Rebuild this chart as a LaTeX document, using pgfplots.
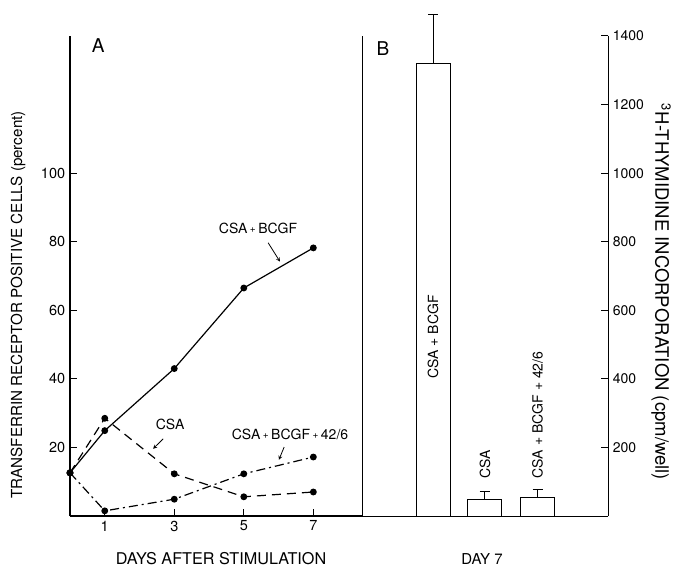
\documentclass[border=0pt]{standalone}
\usepackage{fontspec}
\setmainfont{TeX Gyre Heros}
\usepackage{pgfplots}
\pgfplotsset{compat=1.18}
\newcommand{\pl}{\hspace{2.5pt}{\fontsize{10}{10}\selectfont\raisebox{1pt}{+}}\hspace{2.5pt}}
\begin{document}
\fontsize{14}{16}\selectfont
\begin{tikzpicture}[x=1pt,y=1pt]
\useasboundingbox (0,0) rectangle (677,568);
\begin{axis}[at={(70pt,52pt)}, anchor=south west, scale only axis,
  width=292pt, height=480pt,
  xmin=0, xmax=8.4, ymin=0, ymax=140,
  axis x line*=bottom, axis y line*=left,
  axis line style={-, line width=1.4pt},
  xtick={1,3,5,7}, ytick={20,40,60,80,100},
  tick align=inside, major tick length=7pt,
  tick style={line width=1pt, black},
  /pgf/number format/assume math mode=true,
  tick label style={font=\fontsize{14.5}{16}\selectfont},
  clip=false]
\addplot[black, line width=1.2pt, mark=*, mark size=2.8pt, mark options={solid}]
  coordinates {(0,12.6) (1,24.9) (3,43) (5,66.5) (7,78.2)};
\addplot[black, line width=1.2pt, dash pattern=on 9pt off 6pt, mark=*, mark size=2.8pt, mark options={solid}]
  coordinates {(0,12.6) (1,28.5) (3,12.3) (5,5.6) (7,7)};
\addplot[black, line width=1.2pt, dash pattern=on 9pt off 4pt on 2pt off 4pt, mark=*, mark size=2.8pt, mark options={solid}]
  coordinates {(0,12.6) (1,1.5) (3,4.9) (5,12.3) (7,17.2)};
\node[font=\fontsize{14}{16}\selectfont] at (axis cs:5.41,83.8) {CSA\pl BCGF};
\draw[-stealth, line width=0.8pt] (axis cs:5.70,79.7) -- (axis cs:6.04,74.2);
\node[font=\fontsize{14}{16}\selectfont] at (axis cs:2.88,26.6) {CSA};
\draw[-stealth, line width=0.8pt] (axis cs:2.68,22.5) -- (axis cs:2.39,19.6);
\node[font=\fontsize{14}{16}\selectfont] at (axis cs:6.33,23.9) {CSA\pl BCGF\pl 42/6};
\draw[-stealth, line width=0.8pt] (axis cs:6.16,20.1) -- (axis cs:6.01,16.4);
\node[font=\fontsize{19}{21}\selectfont] at (axis cs:0.81,137.2) {A};
\end{axis}
\begin{axis}[at={(362pt,52pt)}, anchor=south west, scale only axis,
  width=246pt, height=480pt,
  xmin=0, xmax=246, ymin=0, ymax=1400,
  axis x line*=bottom, axis y line*=right,
  axis line style={-, line width=1pt},
  xtick=\empty, ytick={200,400,...,1400},
  tick align=inside, major tick length=7pt,
  tick style={line width=1pt, black},
  /pgf/number format/assume math mode=true,
  /pgf/number format/1000 sep={},
  tick label style={font=\fontsize{14}{16}\selectfont},
  clip=false]
\addplot[ybar, bar width=34, fill=white, draw=black, line width=1pt,
  error bars/.cd, y dir=plus, y explicit, error mark=|,
  error bar style={line width=1pt, black},
  error mark options={black, mark size=5pt, line width=1pt}]
  coordinates {(71,1320) +- (0,144) (122.5,49) +- (0,23) (175.5,53) +- (0,25)};
\draw[line width=1pt] (axis cs:0,0) -- (axis cs:0,1400);
\node[font=\fontsize{19}{21}\selectfont] at (axis cs:21,1362) {B};
\node[rotate=90, anchor=west, font=\fontsize{14}{16}\selectfont] at (axis cs:71,386) {CSA + BCGF};
\node[rotate=90, anchor=west, font=\fontsize{14}{16}\selectfont] at (axis cs:123,96) {CSA};
\node[rotate=90, anchor=west, font=\fontsize{14}{16}\selectfont] at (axis cs:175.5,96) {CSA + BCGF + 42/6};
\end{axis}
\node[rotate=90, font=\fontsize{15.2}{17}\selectfont] at (18,263) {TRANSFERRIN RECEPTOR POSITIVE CELLS (percent)};
\node[rotate=-90, font=\fontsize{18.5}{20}\selectfont] at (661,276) {\textsuperscript{3}H-THYMIDINE INCORPORATION (cpm/well)};
\node[font=\fontsize{16.2}{18}\selectfont] at (221,9) {DAYS AFTER STIMULATION};
\node[font=\fontsize{15}{17}\selectfont] at (482,9) {DAY 7};
\end{tikzpicture}
\end{document}
